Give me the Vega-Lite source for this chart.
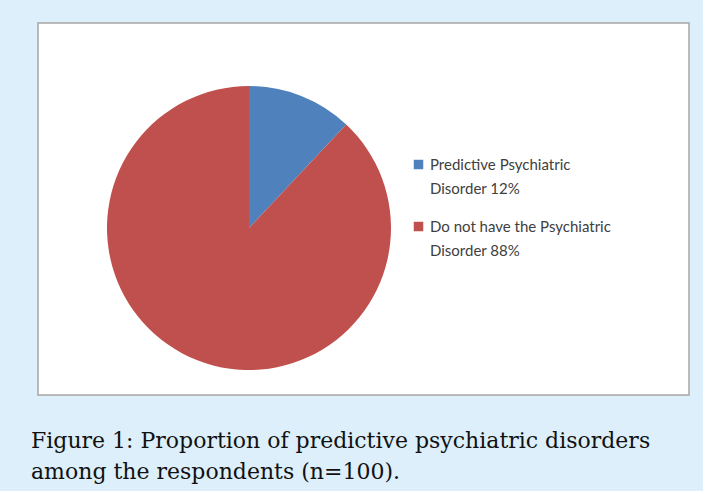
{
  "$schema": "https://vega.github.io/schema/vega-lite/v6.json",
  "width": 651,
  "height": 372,
  "padding": {"left": 31, "top": 23, "right": 21, "bottom": 30},
  "background": "#ddeffa",
  "config": {
    "view": {"fill": "#ffffff", "stroke": "#a6a6a6", "strokeWidth": 1.5},
    "style": {"guide-label": {"lineHeight": 24}}
  },
  "title": {
    "text": ["Figure 1: Proportion of predictive psychiatric disorders", "among the respondents (n=100)."],
    "orient": "bottom",
    "anchor": "start",
    "font": "DejaVu Serif",
    "fontSize": 22,
    "fontWeight": "normal",
    "color": "#111111",
    "lineHeight": 31,
    "offset": 36,
    "dx": -7
  },
  "data": {
    "values": [
      {"category": "Predictive Psychiatric|Disorder 12%", "value": 12},
      {"category": "Do not have the Psychiatric|Disorder 88%", "value": 88}
    ]
  },
  "mark": {"type": "arc", "outerRadius": 142},
  "encoding": {
    "theta": {"field": "value", "type": "quantitative", "stack": true},
    "order": {"field": "value", "type": "quantitative", "sort": "ascending"},
    "color": {
      "field": "category",
      "type": "nominal",
      "scale": {
        "domain": ["Predictive Psychiatric|Disorder 12%", "Do not have the Psychiatric|Disorder 88%"],
        "range": ["#4f81bd", "#c0504d"]
      },
      "legend": {
        "title": null,
        "orient": "none",
        "legendX": 373,
        "legendY": 134,
        "symbolType": "square",
        "symbolSize": 90,
        "symbolStrokeWidth": 0,
        "labelFont": "Lato",
        "labelFontSize": 15,
        "labelColor": "#404040",
        "labelLimit": 300,
        "labelOffset": 4,
        "rowPadding": 22,
        "labelExpr": "split(datum.label, '|')"
      }
    },
    "x": {"value": 211},
    "y": {"value": 205}
  }
}
